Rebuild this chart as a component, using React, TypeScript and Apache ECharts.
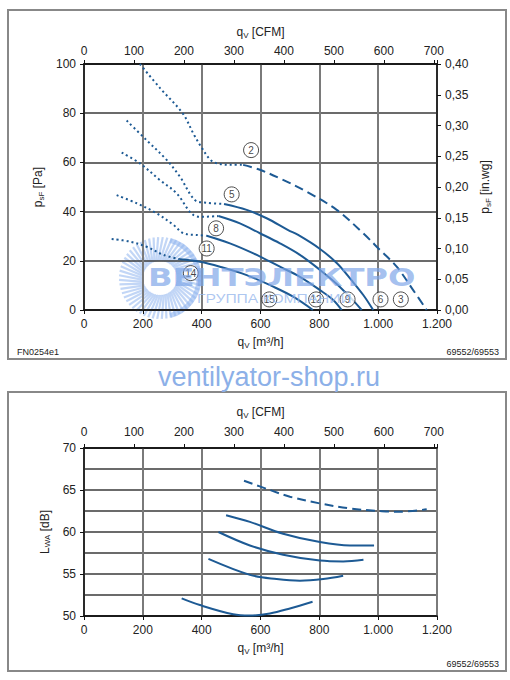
import React, { useEffect, useRef } from 'react';
import * as echarts from 'echarts';

// ---------- data ----------
const M3H_PER_CFM = 1.699;
const qMaxM3h = 1200;

// fan pressure curves: [q m³/h, p Pa]
const curve2Dotted = [[190, 100], [260, 90], [335, 80], [375, 71], [400, 66], [430, 61], [455, 59.5], [500, 59], [541, 59]];
const curve2Dashed = [[541, 59], [598, 57], [666, 53.5], [757, 48.1], [859, 40.7], [949, 31.2], [1006, 24.4], [1063, 17.6], [1119, 8.1], [1165, 0]];
const curve5Dotted = [[145, 77], [213, 69], [281, 61], [326, 54.2], [377, 44.7], [417, 43.6], [476, 43.1]];
const curve5Solid = [[476, 43.1], [553, 40.7], [621, 37.3], [694, 32.5], [728, 30.5], [800, 25], [860, 19], [910, 12], [950, 6], [983, 0]];
const curve8Dotted = [[128, 64], [190, 59.6], [258, 52.8], [315, 47.4], [372, 38.6], [405, 37.9], [457, 38.2]];
const curve8Solid = [[457, 38.2], [530, 35.2], [598, 31.2], [666, 27.1], [734, 22.4], [800, 16.5], [860, 10.5], [910, 4.5], [944, 0]];
const curve11Dotted = [[111, 46.7], [179, 43.4], [247, 39.3], [304, 34.6], [338, 31.2], [383, 30.5], [417, 30.2]];
const curve11Solid = [[417, 30.2], [496, 27.1], [576, 23], [666, 17.6], [734, 13.5], [802, 8.1], [847, 4.1], [876, 0]];
const curve14Dotted = [[94, 28.9], [156, 27.8], [213, 25.7], [270, 22.4], [326, 20.6]];
const curve14Solid = [[326, 20.6], [394, 19.6], [462, 17.6], [553, 14.2], [643, 9.5], [711, 5.4], [778, 0]];

// circled curve labels
const labelNames = ['2', '5', '8', '11', '14', '15', '12', '9', '6', '3'];
const labelQ = [568, 502, 449, 417, 363, 630, 789, 896, 1008, 1077];
const labelP = [65, 47, 33.2, 25, 15, 4.3, 4.3, 4.3, 4.3, 4.3];

// sound power curves: [q m³/h, LWA dB]
const noise2 = [[544, 66.1], [632, 65.0], [700, 64.2], [802, 63.4], [904, 62.8], [1006, 62.5], [1063, 62.4], [1165, 62.7]];
const noise5 = [[483, 62.0], [564, 61.2], [677, 59.8], [802, 58.8], [904, 58.4], [986, 58.4]];
const noise8 = [[457, 60.0], [564, 58.4], [677, 57.3], [802, 56.6], [881, 56.5], [950, 56.7]];
const noise11 = [[423, 56.8], [564, 54.9], [655, 54.4], [734, 54.2], [813, 54.4], [881, 54.8]];
const noise14 = [[332, 52.1], [394, 51.3], [507, 50.2], [564, 50.05], [632, 50.3], [700, 50.9], [777, 51.7]];

// ---------- styles ----------
const FONT = "'Liberation Sans', Arial, sans-serif";
const BLUE = '#1d5a94';
const TXT = '#222';

const thousands = (v: number) => String(v).replace(/\B(?=(\d{3})+(?!\d))/g, '.');

const rich = {
  i: { fontSize: 12, color: TXT, fontFamily: FONT },
  s: { fontSize: 8, color: TXT, fontFamily: FONT, padding: [6, 0, 0, 0] },
};

const axisBase = {
  axisLine: { show: true, onZero: false, lineStyle: { color: '#111', width: 1.5 } },
  axisTick: { show: true, length: 4, lineStyle: { color: '#111', width: 1 } },
  axisLabel: { color: TXT, fontSize: 12, fontFamily: FONT },
  nameTextStyle: { rich },
};

const vSplit = { show: true, lineStyle: { color: '#7a7a7a', width: 2 } };
const hSplit = { show: true, lineStyle: { color: '#3a3a3a', width: 1.5 } };

function lineSeries(data: number[][], type: any, xi: number, yi: number) {
  return {
    type: 'line',
    xAxisIndex: xi,
    yAxisIndex: yi,
    data,
    smooth: 0.35,
    showSymbol: false,
    symbol: 'none',
    silent: true,
    lineStyle: { color: BLUE, width: 2, type },
    z: 3,
  };
}

const DOT = [2, 3];
const DASH = [9, 5];

function sunRays() {
  const els: any[] = [];
  const cx = 160, cy = 278;
  const n = 56;
  for (let k = 0; k < n; k++) {
    const a = (k / n) * Math.PI * 2;
    const a2 = a + 0.18;
    els.push({
      type: 'line',
      shape: {
        x1: cx + Math.cos(a) * 17, y1: cy + Math.sin(a) * 17,
        x2: cx + Math.cos(a2) * 41, y2: cy + Math.sin(a2) * 41,
      },
      style: { stroke: '#8fb4ee', lineWidth: 2.2, opacity: 0.55 },
      silent: true,
    });
  }
  els.push({
    type: 'arc',
    shape: { cx, cy, r: 39, startAngle: -Math.PI / 2.4, endAngle: Math.PI / 2.4 },
    style: { stroke: '#8fb4ee', lineWidth: 5, fill: 'none', opacity: 0.6 },
    silent: true,
  });
  return els;
}

export default function App() {
  const ref = useRef<HTMLDivElement>(null);
  useEffect(() => {
    if (!ref.current) return;
    const chart = echarts.init(ref.current, null, { renderer: 'svg' });
    const option: any = {
      animation: false,
      backgroundColor: '#fff',
      grid: [
        { left: 84, top: 64, width: 353, height: 246, show: true, borderColor: '#111', borderWidth: 1.5, backgroundColor: 'transparent' },
        { left: 84, top: 448, width: 353, height: 168, show: true, borderColor: '#111', borderWidth: 1.5, backgroundColor: 'transparent' },
      ],
      xAxis: [
        {
          ...axisBase, gridIndex: 0, type: 'value', position: 'bottom', min: 0, max: qMaxM3h, interval: 200,
          splitLine: vSplit, axisLabel: { ...axisBase.axisLabel, margin: 8, formatter: thousands },
          name: '{i|q}{s|V}{i| [m³/h]}', nameLocation: 'middle', nameGap: 25,
        },
        {
          ...axisBase, gridIndex: 0, type: 'value', position: 'top', min: 0, max: qMaxM3h / M3H_PER_CFM, interval: 100,
          splitLine: { show: false },
          axisLabel: { ...axisBase.axisLabel, margin: 7, formatter: (v: number) => (Math.abs(v % 100) < 1e-6 ? String(v) : '') },
          name: '{i|q}{s|V}{i| [CFM]}', nameLocation: 'middle', nameGap: 25,
        },
        {
          ...axisBase, gridIndex: 1, type: 'value', position: 'bottom', min: 0, max: qMaxM3h, interval: 200,
          splitLine: vSplit, axisLabel: { ...axisBase.axisLabel, margin: 8, formatter: thousands },
          name: '{i|q}{s|V}{i| [m³/h]}', nameLocation: 'middle', nameGap: 25,
        },
        {
          ...axisBase, gridIndex: 1, type: 'value', position: 'top', min: 0, max: qMaxM3h / M3H_PER_CFM, interval: 100,
          splitLine: { show: false },
          axisLabel: { ...axisBase.axisLabel, margin: 10, formatter: (v: number) => (Math.abs(v % 100) < 1e-6 ? String(v) : '') },
          name: '{i|q}{s|V}{i| [CFM]}', nameLocation: 'middle', nameGap: 29,
        },
      ],
      yAxis: [
        {
          ...axisBase, gridIndex: 0, type: 'value', position: 'left', min: 0, max: 100, interval: 20,
          splitLine: hSplit, axisLabel: { ...axisBase.axisLabel, margin: 8 },
          name: '{i|p}{s|sF}{i| [Pa]}', nameLocation: 'middle', nameGap: 31, nameRotate: 90,
        },
        {
          ...axisBase, gridIndex: 0, type: 'value', position: 'right', min: 0, max: 0.4, interval: 0.05,
          splitLine: { show: false },
          axisLabel: { ...axisBase.axisLabel, margin: 8, formatter: (v: number) => v.toFixed(2).replace('.', ',') },
          name: '{i|p}{s|sF}{i| [in.wg]}', nameLocation: 'middle', nameGap: 39, nameRotate: 90,
        },
        {
          ...axisBase, gridIndex: 1, type: 'value', position: 'left', min: 50, max: 70, interval: 5,
          splitLine: hSplit, axisLabel: { ...axisBase.axisLabel, margin: 8 },
          minorTick: { show: false, splitNumber: 2 },
          minorSplitLine: hSplit,
          name: '{i|L}{s|WA}{i| [dB]}', nameLocation: 'middle', nameGap: 30, nameRotate: 90,
        },
      ],
      series: [
        lineSeries(curve2Dotted, DOT, 0, 0),
        lineSeries(curve2Dashed, DASH, 0, 0),
        lineSeries(curve5Dotted, DOT, 0, 0),
        lineSeries(curve5Solid, 'solid', 0, 0),
        lineSeries(curve8Dotted, DOT, 0, 0),
        lineSeries(curve8Solid, 'solid', 0, 0),
        lineSeries(curve11Dotted, DOT, 0, 0),
        lineSeries(curve11Solid, 'solid', 0, 0),
        lineSeries(curve14Dotted, DOT, 0, 0),
        lineSeries(curve14Solid, 'solid', 0, 0),
        {
          type: 'scatter', xAxisIndex: 0, yAxisIndex: 0, silent: true, z: 6,
          data: labelQ.map((q, i) => ({ value: [q, labelP[i]], name: labelNames[i] })),
          symbol: 'circle', symbolSize: 15,
          itemStyle: { color: '#fff', borderColor: '#222', borderWidth: 1 },
          label: { show: true, position: 'inside', formatter: '{b}', fontSize: 10, color: '#111', fontFamily: FONT },
        },
        lineSeries(noise2, DASH, 2, 2),
        lineSeries(noise5, 'solid', 2, 2),
        lineSeries(noise8, 'solid', 2, 2),
        lineSeries(noise11, 'solid', 2, 2),
        lineSeries(noise14, 'solid', 2, 2),
      ],
      graphic: [
        { type: 'rect', shape: { x: 8, y: 10, width: 498, height: 349 }, style: { fill: 'none', stroke: '#888', lineWidth: 2 }, silent: true, z: 0 },
        { type: 'rect', shape: { x: 8, y: 392, width: 498, height: 279 }, style: { fill: 'none', stroke: '#888', lineWidth: 2 }, silent: true, z: 0 },
        { type: 'text', x: 17, y: 352, style: { text: 'FN0254e1', fill: TXT, font: `9px ${FONT}`, textVerticalAlign: 'middle' }, silent: true },
        { type: 'text', x: 499, y: 352, style: { text: '69552/69553', fill: TXT, font: `9px ${FONT}`, textAlign: 'right', textVerticalAlign: 'middle' }, silent: true },
        { type: 'text', x: 499, y: 664, style: { text: '69552/69553', fill: TXT, font: `9px ${FONT}`, textAlign: 'right', textVerticalAlign: 'middle' }, silent: true },
        { type: 'text', x: 269, y: 377, style: { text: 'ventilyator-shop.ru', fill: '#8cb0e8', font: `27px ${FONT}`, textAlign: 'center', textVerticalAlign: 'middle' }, silent: true },
        { type: 'group', z: 50, silent: true, children: sunRays() },
        {
          type: 'text', x: 148, y: 277, scaleX: 1.29, originX: 0, originY: 0, z: 51, silent: true,
          style: { text: 'ВЕНТЭЛЕКТРО', fill: '#7ea6e8', opacity: 0.7, font: `bold 25px 'DejaVu Sans', sans-serif`, textVerticalAlign: 'middle' },
        },
        {
          type: 'text', x: 197, y: 298, scaleX: 1.2, originX: 0, originY: 0, z: 51, silent: true,
          style: { text: 'ГРУППА КОМПАНИЙ', fill: '#93b5ec', opacity: 0.75, font: `13px ${FONT}`, textVerticalAlign: 'middle' },
        },
      ],
    };
    chart.setOption(option);
    return () => chart.dispose();
  }, []);
  return <div ref={ref} style={{ position: 'absolute', left: 0, top: 0, width: 510, height: 680 }} />;
}
